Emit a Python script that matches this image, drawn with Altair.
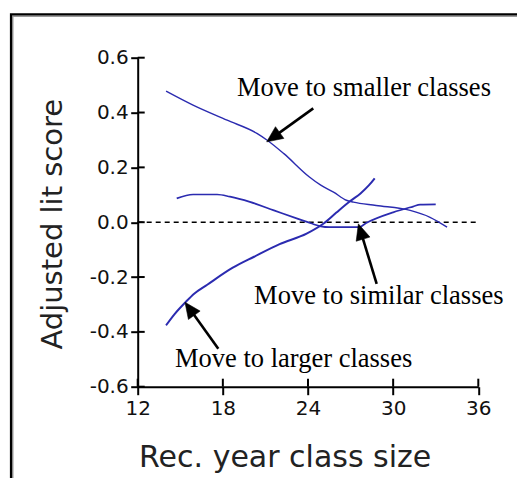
import math
import altair as alt
import pandas as pd

# ---------------- data ----------------
series_names = ["smaller", "similar", "larger"]
smaller_x = [14.0, 15.9, 18.3, 20.4, 21.1, 22.3, 24.1, 24.9, 25.8, 26.7, 27.2, 28.8, 31.2, 32.6, 33.8]
smaller_y = [0.478, 0.427, 0.372, 0.324, 0.300, 0.250, 0.165, 0.135, 0.110, 0.080, 0.073, 0.061, 0.043, 0.018, -0.018]
similar_x = [14.75, 15.9, 17.6, 18.5, 19.9, 21.6, 23.3, 24.2, 24.9, 25.5, 27.6, 28.1, 30.0, 31.4, 31.9, 33.0]
similar_y = [0.087, 0.101, 0.101, 0.093, 0.074, 0.043, 0.012, -0.004, -0.015, -0.018, -0.018, -0.003, 0.036, 0.057, 0.064, 0.065]
larger_x = [14.0, 14.6, 15.4, 16.0, 16.9, 18.7, 20.2, 22.0, 23.9, 25.1, 26.0, 27.0, 27.7, 28.3, 28.7]
larger_y = [-0.376, -0.335, -0.290, -0.260, -0.228, -0.166, -0.126, -0.080, -0.042, -0.005, 0.035, 0.078, 0.105, 0.135, 0.160]

x_ticks = [12, 18, 24, 30, 36]
y_ticks = [-0.6, -0.4, -0.2, 0.0, 0.2, 0.4, 0.6]

ref_x = [12]
ref_x2 = [36]
ref_y = [0.0]

labels = ["Move to smaller classes", "Move to similar classes", "Move to larger classes"]
label_x = [19.0, 20.2, 14.63]
label_y = [0.459, -0.297, -0.529]

arrow_tail_x = [24.37, 28.84, 17.68]
arrow_tail_y = [0.415, -0.225, -0.462]
arrow_tip_x = [21.09, 27.55, 15.33]
arrow_tip_y = [0.293, -0.006, -0.292]

# ---------------- layout ----------------
W = 340.6
H = 329.0
XMIN, XMAX = 12, 36
YMIN, YMAX = -0.6, 0.6
LINE_COLOR = "#2b2bb0"
sx = W / (XMAX - XMIN)
sy = H / (YMAX - YMIN)

lines_df = pd.concat([
    pd.DataFrame({"x": smaller_x, "y": smaller_y, "series": "smaller"}),
    pd.DataFrame({"x": similar_x, "y": similar_y, "series": "similar"}),
    pd.DataFrame({"x": larger_x, "y": larger_y, "series": "larger"}),
], ignore_index=True)

rows = []
HEAD_BACK = 9.0
for tx, ty, hx, hy in zip(arrow_tail_x, arrow_tail_y, arrow_tip_x, arrow_tip_y):
    dx = (hx - tx) * sx
    dy = -(hy - ty) * sy
    L = math.hypot(dx, dy)
    ux, uy = dx / L, dy / L
    ex = hx - HEAD_BACK * ux / sx
    ey = hy + HEAD_BACK * uy / sy
    ang = math.degrees(math.atan2(dx, -dy)) % 360
    rows.append({"x": tx, "y": ty, "ex": ex, "ey": ey, "hx": hx, "hy": hy, "ang": ang})
arrows_df = pd.DataFrame(rows)

labels_df = pd.DataFrame({"label": labels, "x": label_x, "y": label_y})
ref_df = pd.DataFrame({"x": ref_x, "x2": ref_x2, "y": ref_y})
xt_df = pd.DataFrame({"x": x_ticks})
yt_df = pd.DataFrame({"y": y_ticks})
one = pd.DataFrame({"a": [0]})

xscale = alt.Scale(domain=[XMIN, XMAX], nice=False, zero=False)
yscale = alt.Scale(domain=[YMIN, YMAX], nice=False, zero=False)

xaxis = alt.Axis(
    values=x_ticks, format="d", title="Rec. year class size",
    domainColor="black", domainWidth=2, tickColor="black", tickWidth=2, tickSize=8,
    labelPadding=4, labelFont="DejaVu Sans", labelFontSize=20, labelColor="#111",
    titleFont="DejaVu Sans", titleFontSize=30, titleFontWeight="normal", titleColor="#222",
    titleX=147, titleY=80, titleAlign="center", titleBaseline="alphabetic",
    grid=False, labelFlush=False, labelOverlap=False)
yaxis = alt.Axis(
    values=y_ticks, title="Adjusted lit score",
    labelExpr="(datum.value < 0 ? '-' : '') + format(abs(datum.value), '.1f')",
    domainColor="black", domainWidth=2, tickColor="black", tickWidth=2, tickSize=7,
    labelPadding=2.5, labelFont="DejaVu Sans", labelFontSize=20, labelColor="#111",
    titleFont="DejaVu Sans", titleFontSize=29, titleFontWeight="normal", titleColor="#222",
    titleX=-76, titleY=166, titleAngle=270, titleAlign="center", titleBaseline="alphabetic",
    grid=False, labelFlush=False, labelOverlap=False)


def X(field):
    return alt.X(field, type="quantitative", scale=xscale, axis=xaxis)


def Y(field):
    return alt.Y(field, type="quantitative", scale=yscale, axis=yaxis)


# frame around the whole figure
frame = alt.Chart(one).mark_rect(fillOpacity=0, stroke="black", strokeWidth=2.2, clip=False).encode(
    x=alt.value(-126.7), x2=alt.value(W + 200), y=alt.value(-43.4), y2=alt.value(H + 250)
)
frame_shadow = alt.Chart(one).mark_rect(fillOpacity=0, stroke="#9a9a9a", strokeWidth=1.6, clip=False).encode(
    x=alt.value(-125.0), x2=alt.value(W + 200), y=alt.value(-41.5), y2=alt.value(H + 250)
)

lines = alt.Chart(lines_df).mark_line(interpolate="monotone", color=LINE_COLOR).encode(
    x=X("x"), y=Y("y"),
    detail="series:N",
    strokeWidth=alt.StrokeWidth("series:N", scale=alt.Scale(domain=series_names, range=[1.4, 2.0, 1.4]), legend=None),
)

zero_line = alt.Chart(ref_df).mark_rule(color="black", strokeWidth=1.5, strokeDash=[5, 4]).encode(
    x=X("x"), x2="x2:Q", y=Y("y"),
)

shafts = alt.Chart(arrows_df).mark_rule(color="black", strokeWidth=2.6).encode(
    x=X("x"), x2="ex:Q", y=Y("y"), y2="ey:Q",
)

heads = alt.Chart(arrows_df).mark_point(
    shape="M0,0L-0.9,2L0.9,2Z", filled=True, fill="black", stroke="black", strokeWidth=0.5,
    opacity=1, size=256
).encode(
    x=X("hx"), y=Y("hy"),
    angle=alt.Angle("ang:Q", scale=None),
)

texts = alt.Chart(labels_df).mark_text(
    align="left", baseline="alphabetic", font="Liberation Serif", fontSize=26.5, color="black"
).encode(
    x=X("x"), y=Y("y"), text="label:N",
)

x_inner_ticks = alt.Chart(xt_df).mark_rule(color="black", strokeWidth=2).encode(
    x=X("x"), y=alt.value(H), y2=alt.value(H - 8)
)
y_inner_ticks = alt.Chart(yt_df).mark_rule(color="black", strokeWidth=2).encode(
    y=Y("y"), x=alt.value(0), x2=alt.value(7)
)

chart = alt.layer(
    frame_shadow, frame, zero_line, lines, shafts, heads, texts, x_inner_ticks, y_inner_ticks
).properties(
    width=W, height=H,
    autosize=alt.AutoSizeParams(type="none"),
    padding={"left": 129.7, "top": 49.7, "right": 38.7, "bottom": 91.3},
    background="white",
).configure_view(stroke=None)

chart.save("out.html", embed_options={"renderer": "svg", "actions": False})
